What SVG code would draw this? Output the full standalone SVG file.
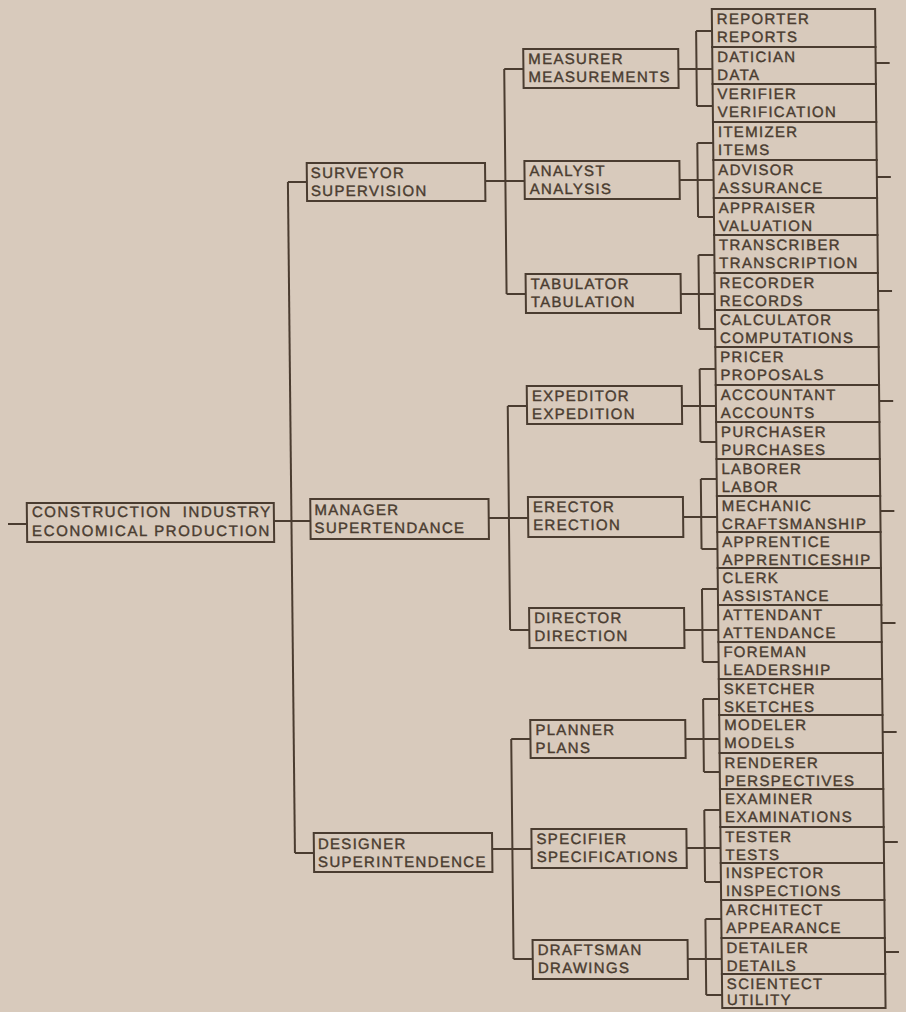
<svg xmlns="http://www.w3.org/2000/svg" width="906" height="1012" viewBox="0 0 906 1012">
<style>
.bx{fill:none;stroke:#4a3c30;stroke-width:2}
.ln{fill:none;stroke:#4a3c30;stroke-width:2}
text{font-family:"Liberation Sans",Arial,sans-serif;font-weight:normal;font-size:15px;letter-spacing:1.3px;fill:#4a3c30;stroke:#4a3c30;stroke-width:0.4px}
</style>
<rect x="0" y="0" width="906" height="1012" fill="#d8cabc"/>
<g transform="skewX(0.6)">
<g id="connectors" class="ln">
<path d="M2.5,524H21.5"/>
<path d="M268.5,521H305"/>
<path d="M286,182V853"/>
<path d="M286,182H305M286,853H305"/>
<path d="M483.3,181H522.7M483.3,518H522.7M483.3,849H522.7"/>
<path d="M503.5,69V294M503.5,69H522.7M503.5,294H522.7"/>
<path d="M503.5,406V630M503.5,406H522.7M503.5,630H522.7"/>
<path d="M503.5,739V959M503.5,739H522.7M503.5,959H522.7"/>
<path d="M677.7,69H711.7M695.8,31V106M695.8,31H711.7M695.8,106H711.7"/>
<path d="M677.7,180H711.7M695.8,143V217M695.8,143H711.7M695.8,217H711.7"/>
<path d="M677.7,294H711.7M695.8,255V329M695.8,255H711.7M695.8,329H711.7"/>
<path d="M677.7,406H711.7M695.8,369V442M695.8,369H711.7M695.8,442H711.7"/>
<path d="M677.7,517H711.7M695.8,479V549M695.8,479H711.7M695.8,549H711.7"/>
<path d="M677.7,630H711.7M695.8,589V662M695.8,589H711.7M695.8,662H711.7"/>
<path d="M677.7,739H711.7M695.8,699V772M695.8,699H711.7M695.8,772H711.7"/>
<path d="M677.7,848H711.7M695.8,810V882M695.8,810H711.7M695.8,882H711.7"/>
<path d="M677.7,959H711.7M695.8,919V995M695.8,919H711.7M695.8,995H711.7"/>
<path d="M875,63H889M875,177H889M875,291H889M875,401H889M875,511H889M875,623H889M875,732H889M875,842H889M875,952H889"/>
</g>
<g id="root"><rect class="bx" x="21.5" y="503" width="247" height="39"/><text x="26.5" y="517.5" style="letter-spacing:1.6px;word-spacing:5px">CONSTRUCTION INDUSTRY</text><text x="26.5" y="536.5" style="letter-spacing:1.6px">ECONOMICAL PRODUCTION</text></g>
<g id="surveyor"><rect class="bx" x="305" y="163" width="178.3" height="38"/><text x="309" y="178.5">SURVEYOR</text><text x="309" y="196">SUPERVISION</text></g>
<g id="manager"><rect class="bx" x="305" y="499" width="178.3" height="40"/><text x="309" y="515.5">MANAGER</text><text x="309" y="533">SUPERTENDANCE</text></g>
<g id="designer"><rect class="bx" x="305" y="833" width="178.3" height="39"/><text x="309" y="849.5">DESIGNER</text><text x="309" y="867">SUPERINTENDENCE</text></g>
<g id="measurer"><rect class="bx" x="522.7" y="49" width="155" height="39"/><text x="527.7" y="64.5">MEASURER</text><text x="527.7" y="82">MEASUREMENTS</text></g>
<g id="analyst"><rect class="bx" x="522.7" y="161" width="155" height="38"/><text x="527.7" y="176.5">ANALYST</text><text x="527.7" y="194">ANALYSIS</text></g>
<g id="tabulator"><rect class="bx" x="522.7" y="274" width="155" height="39"/><text x="527.7" y="289.5">TABULATOR</text><text x="527.7" y="307">TABULATION</text></g>
<g id="expeditor"><rect class="bx" x="522.7" y="386" width="155" height="38"/><text x="527.7" y="401.5">EXPEDITOR</text><text x="527.7" y="419">EXPEDITION</text></g>
<g id="erector"><rect class="bx" x="522.7" y="497" width="155" height="40"/><text x="527.7" y="512.5">ERECTOR</text><text x="527.7" y="530">ERECTION</text></g>
<g id="director"><rect class="bx" x="522.7" y="608" width="155" height="40"/><text x="527.7" y="623.5">DIRECTOR</text><text x="527.7" y="641">DIRECTION</text></g>
<g id="planner"><rect class="bx" x="522.7" y="720" width="155" height="38"/><text x="527.7" y="735.5">PLANNER</text><text x="527.7" y="753">PLANS</text></g>
<g id="specifier"><rect class="bx" x="522.7" y="829" width="155" height="39"/><text x="527.7" y="844.5">SPECIFIER</text><text x="527.7" y="862">SPECIFICATIONS</text></g>
<g id="draftsman"><rect class="bx" x="522.7" y="940" width="155" height="39"/><text x="527.7" y="955.5">DRAFTSMAN</text><text x="527.7" y="973">DRAWINGS</text></g>
<g id="reporter"><rect class="bx" x="711.7" y="9" width="163.3" height="38"/><text x="716.5" y="24.5">REPORTER</text><text x="716.5" y="42">REPORTS</text></g>
<g id="datician"><rect class="bx" x="711.7" y="47" width="163.3" height="37"/><text x="716.5" y="62.5">DATICIAN</text><text x="716.5" y="80">DATA</text></g>
<g id="verifier"><rect class="bx" x="711.7" y="84" width="163.3" height="38"/><text x="716.5" y="99.5">VERIFIER</text><text x="716.5" y="117">VERIFICATION</text></g>
<g id="itemizer"><rect class="bx" x="711.7" y="122" width="163.3" height="38"/><text x="716.5" y="137.5">ITEMIZER</text><text x="716.5" y="155">ITEMS</text></g>
<g id="advisor"><rect class="bx" x="711.7" y="160" width="163.3" height="38"/><text x="716.5" y="175.5">ADVISOR</text><text x="716.5" y="193">ASSURANCE</text></g>
<g id="appraiser"><rect class="bx" x="711.7" y="198" width="163.3" height="37"/><text x="716.5" y="213.5">APPRAISER</text><text x="716.5" y="231">VALUATION</text></g>
<g id="transcriber"><rect class="bx" x="711.7" y="235" width="163.3" height="38"/><text x="716.5" y="250.5">TRANSCRIBER</text><text x="716.5" y="268">TRANSCRIPTION</text></g>
<g id="recorder"><rect class="bx" x="711.7" y="273" width="163.3" height="37"/><text x="716.5" y="288.5">RECORDER</text><text x="716.5" y="306">RECORDS</text></g>
<g id="calculator"><rect class="bx" x="711.7" y="310" width="163.3" height="37"/><text x="716.5" y="325.5">CALCULATOR</text><text x="716.5" y="343">COMPUTATIONS</text></g>
<g id="pricer"><rect class="bx" x="711.7" y="347" width="163.3" height="38"/><text x="716.5" y="362.5">PRICER</text><text x="716.5" y="380">PROPOSALS</text></g>
<g id="accountant"><rect class="bx" x="711.7" y="385" width="163.3" height="37"/><text x="716.5" y="400.5">ACCOUNTANT</text><text x="716.5" y="418">ACCOUNTS</text></g>
<g id="purchaser"><rect class="bx" x="711.7" y="422" width="163.3" height="37"/><text x="716.5" y="437.5">PURCHASER</text><text x="716.5" y="455">PURCHASES</text></g>
<g id="laborer"><rect class="bx" x="711.7" y="459" width="163.3" height="37"/><text x="716.5" y="474.5">LABORER</text><text x="716.5" y="492">LABOR</text></g>
<g id="mechanic"><rect class="bx" x="711.7" y="496" width="163.3" height="36"/><text x="716.5" y="511.5">MECHANIC</text><text x="716.5" y="529">CRAFTSMANSHIP</text></g>
<g id="apprentice"><rect class="bx" x="711.7" y="532" width="163.3" height="36"/><text x="716.5" y="547.5">APPRENTICE</text><text x="716.5" y="565">APPRENTICESHIP</text></g>
<g id="clerk"><rect class="bx" x="711.7" y="568" width="163.3" height="37"/><text x="716.5" y="583.5">CLERK</text><text x="716.5" y="601">ASSISTANCE</text></g>
<g id="attendant"><rect class="bx" x="711.7" y="605" width="163.3" height="37"/><text x="716.5" y="620.5">ATTENDANT</text><text x="716.5" y="638">ATTENDANCE</text></g>
<g id="foreman"><rect class="bx" x="711.7" y="642" width="163.3" height="37"/><text x="716.5" y="657.5">FOREMAN</text><text x="716.5" y="675">LEADERSHIP</text></g>
<g id="sketcher"><rect class="bx" x="711.7" y="679" width="163.3" height="36"/><text x="716.5" y="694.5">SKETCHER</text><text x="716.5" y="712">SKETCHES</text></g>
<g id="modeler"><rect class="bx" x="711.7" y="715" width="163.3" height="38"/><text x="716.5" y="730.5">MODELER</text><text x="716.5" y="748">MODELS</text></g>
<g id="renderer"><rect class="bx" x="711.7" y="753" width="163.3" height="36"/><text x="716.5" y="768.5">RENDERER</text><text x="716.5" y="786">PERSPECTIVES</text></g>
<g id="examiner"><rect class="bx" x="711.7" y="789" width="163.3" height="38"/><text x="716.5" y="804.5">EXAMINER</text><text x="716.5" y="822">EXAMINATIONS</text></g>
<g id="tester"><rect class="bx" x="711.7" y="827" width="163.3" height="36"/><text x="716.5" y="842.5">TESTER</text><text x="716.5" y="860">TESTS</text></g>
<g id="inspector"><rect class="bx" x="711.7" y="863" width="163.3" height="37"/><text x="716.5" y="878.5">INSPECTOR</text><text x="716.5" y="896">INSPECTIONS</text></g>
<g id="architect"><rect class="bx" x="711.7" y="900" width="163.3" height="38"/><text x="716.5" y="915.5">ARCHITECT</text><text x="716.5" y="933">APPEARANCE</text></g>
<g id="detailer"><rect class="bx" x="711.7" y="938" width="163.3" height="36"/><text x="716.5" y="953.5">DETAILER</text><text x="716.5" y="971">DETAILS</text></g>
<g id="scientect"><rect class="bx" x="711.7" y="974" width="163.3" height="34"/><text x="716.5" y="989.5">SCIENTECT</text><text x="716.5" y="1005">UTILITY</text></g>
</g>
</svg>
